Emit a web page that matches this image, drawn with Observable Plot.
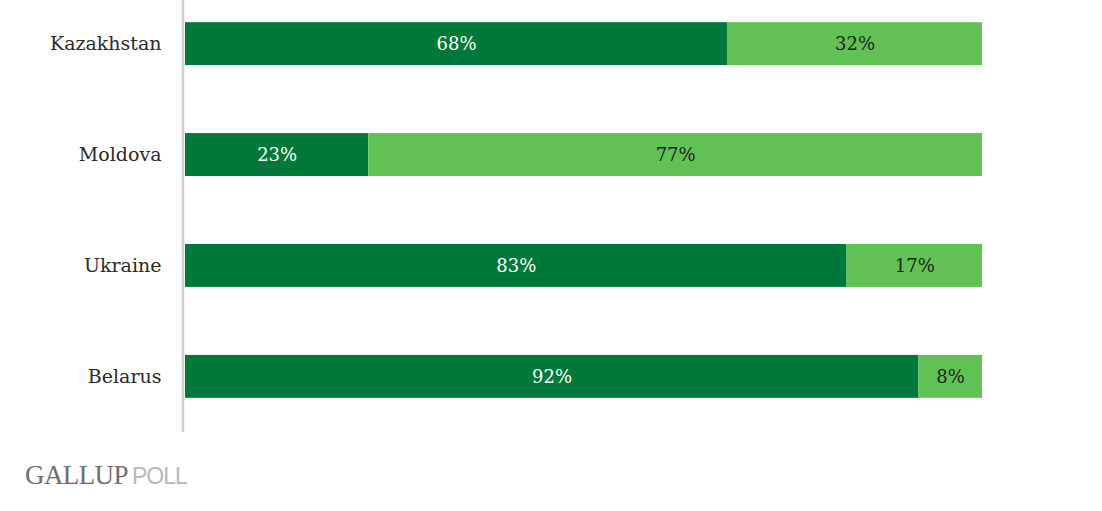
<!DOCTYPE html>
<html>
<head>
<meta charset="utf-8">
<script src="https://cdn.jsdelivr.net/npm/d3@7"></script>
<script src="https://cdn.jsdelivr.net/npm/@observablehq/plot@0.6"></script>
<style>
  body { margin: 0; background: #fff; }
  #wrap { position: relative; width: 1102px; height: 511px; }
  #credit { position: absolute; left: 25px; top: 462px; white-space: nowrap; line-height: 27px; }
  #credit .g { font-family: "Liberation Serif", serif; color: #6e6e6e; font-size: 27px; letter-spacing: -0.6px; }
  #credit .p { font-family: "Liberation Sans", sans-serif; color: #b8b8b8; font-size: 23px; letter-spacing: -1px; }
</style>
</head>
<body>
<div id="wrap">
  <div id="chart"></div>
  <div id="credit"><span class="g">GALLUP</span> <span class="p">POLL</span></div>
</div>
<script>
const countries = ["Kazakhstan", "Moldova", "Ukraine", "Belarus"];
const darkValues = [68, 23, 83, 92];
const lightValues = [32, 77, 17, 8];
const groups = ["dark", "light"];
const colors = ["#00783a", "#62c155"];

const data = [];
countries.forEach((c, i) => {
  data.push({country: c, group: groups[0], value: darkValues[i]});
  data.push({country: c, group: groups[1], value: lightValues[i]});
});

const chart = Plot.plot({
  width: 1102,
  height: 432,
  marginLeft: 185,
  marginRight: 120,
  marginTop: 0,
  marginBottom: 12,
  x: {domain: [0, 100], axis: null},
  y: {domain: countries, padding: 0.613, paddingOuter: 0.2, round: false, label: null, tickSize: 0, tickPadding: 24, fontSize: 19},
  color: {domain: groups, range: colors},
  style: {fontFamily: "DejaVu Serif, serif", fontSize: "19px", color: "#2a2a2a"},
  marks: [
    Plot.barX(data, Plot.stackX({x: "value", y: "country", fill: "group", order: groups})),
    Plot.textX(data, Plot.stackX({x: "value", y: "country", z: "group", order: groups,
      text: d => d.group === groups[0] ? d.value + "%" : null, fill: "white", fontSize: 18})),
    Plot.textX(data, Plot.stackX({x: "value", y: "country", z: "group", order: groups,
      text: d => d.group === groups[1] ? d.value + "%" : null, fill: "#222", fontSize: 18})),
    Plot.ruleX([0], {stroke: "#cfcfcf", strokeWidth: 2.5, dx: -2.5, insetBottom: -12})
  ]
});
document.getElementById("chart").appendChild(chart);
</script>
</body>
</html>
